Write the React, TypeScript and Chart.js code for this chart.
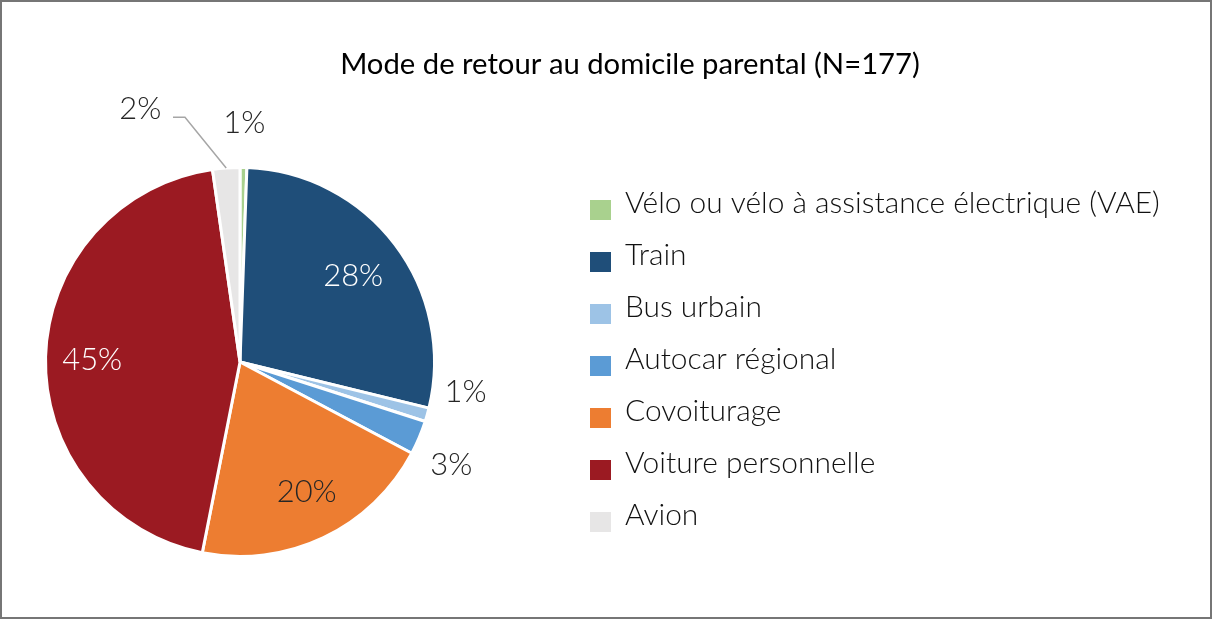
import React, { useEffect, useRef } from "react";
import { Chart, registerables } from "chart.js";

Chart.register(...registerables);

const TITLE = "Mode de retour au domicile parental (N=177)";
const categories = [
  "Vélo ou vélo à assistance électrique (VAE)",
  "Train",
  "Bus urbain",
  "Autocar régional",
  "Covoiturage",
  "Voiture personnelle",
  "Avion",
];
// counts out of N = 177
const counts = [1, 50, 2, 5, 36, 79, 4];
const percentLabels = ["1%", "28%", "1%", "3%", "20%", "45%", "2%"];
const colors = ["#A9D18E", "#1F4E79", "#9DC3E6", "#5B9BD5", "#ED7D31", "#9B1A22", "#E7E6E6"];
const labelColors = ["#262626", "#FFFFFF", "#262626", "#262626", "#262626", "#FFFFFF", "#262626"];
// label placement relative to slice: radius factor and angle nudge (degrees)
const labelRadius = [1.23, 0.73, 1.17, 1.21, 0.75, 0.76, 1.4];
const labelAngleNudge = [0, 0, -8.2, 3.2, -1.8, -0.7, -17.4];

const FONT = "Lato, 'Open Sans', sans-serif";

function fitSize(ctx: CanvasRenderingContext2D, text: string, weight: string, target: number) {
  ctx.font = `${weight} 100px ${FONT}`;
  const w = ctx.measureText(text).width;
  return (100 * target) / w;
}

const overlay = {
  id: "overlay",
  afterDraw(chart: any) {
    const ctx: CanvasRenderingContext2D = chart.ctx;
    const W = chart.width;
    const H = chart.height;
    ctx.save();
    // border
    ctx.strokeStyle = "#767676";
    ctx.lineWidth = 2;
    ctx.strokeRect(1, 1, W - 2, H - 2);

    // title
    const tSize = fitSize(ctx, TITLE, "400", 580);
    ctx.font = `400 ${tSize}px ${FONT}`;
    ctx.fillStyle = "#000000";
    ctx.textAlign = "center";
    ctx.textBaseline = "alphabetic";
    ctx.fillText(TITLE, 630, 74);

    // legend
    const lSize = fitSize(ctx, categories[0], "300", 535);
    ctx.font = `300 ${lSize}px ${FONT}`;
    ctx.textAlign = "left";
    categories.forEach((c, i) => {
      const base = 213 + 52 * i;
      ctx.fillStyle = colors[i];
      ctx.fillRect(590, base + 7 - 20, 21, 20);
      ctx.fillStyle = "#111111";
      ctx.fillText(c, 625, base);
    });

    // data labels
    const meta = chart.getDatasetMeta(0);
    const pSize = fitSize(ctx, "28%", "300", 60);
    ctx.font = `300 ${pSize}px ${FONT}`;
    ctx.textAlign = "center";
    ctx.textBaseline = "middle";
    meta.data.forEach((arc: any, i: number) => {
      const { x, y, startAngle, endAngle, outerRadius } = arc.getProps(
        ["x", "y", "startAngle", "endAngle", "outerRadius"],
        true
      );
      const mid = (startAngle + endAngle) / 2;
      const a = mid + (labelAngleNudge[i] * Math.PI) / 180;
      const r = outerRadius * labelRadius[i];
      const lx = x + r * Math.cos(a);
      const ly = y + r * Math.sin(a);
      if (i === 6) {
        // leader line
        const sx = x + outerRadius * Math.cos(mid);
        const sy = y + outerRadius * Math.sin(mid);
        const ea = mid + (-8.6 * Math.PI) / 180;
        const ex = x + outerRadius * 1.29 * Math.cos(ea);
        const ey = y + outerRadius * 1.29 * Math.sin(ea);
        ctx.strokeStyle = "#A6A6A6";
        ctx.lineWidth = 1.5;
        ctx.beginPath();
        ctx.moveTo(sx, sy);
        ctx.lineTo(ex, ey);
        ctx.lineTo(ex - 12, ey);
        ctx.stroke();
      }
      ctx.fillStyle = labelColors[i];
      ctx.fillText(percentLabels[i], lx, ly);
    });
    ctx.restore();
  },
};

export default function App() {
  const ref = useRef<HTMLCanvasElement | null>(null);
  useEffect(() => {
    document.body.style.margin = "0";
    const chart = new Chart(ref.current!, {
      type: "pie",
      data: {
        labels: categories,
        datasets: [
          {
            data: counts,
            backgroundColor: colors,
            borderColor: "#FFFFFF",
            borderWidth: 3,
          },
        ],
      },
      options: {
        responsive: false,
        animation: false,
        devicePixelRatio: 1,
        layout: { padding: { left: 44, right: 776, top: 166, bottom: 61 } },
        plugins: {
          legend: { display: false },
          title: { display: false },
          tooltip: { enabled: false },
        },
      },
      plugins: [overlay],
    });
    return () => chart.destroy();
  }, []);
  return (
    <div style={{ position: "fixed", left: 0, top: 0, width: 1212, height: 619, background: "#fff" }}>
      <canvas ref={ref} width={1212} height={619} style={{ width: 1212, height: 619 }} />
    </div>
  );
}
